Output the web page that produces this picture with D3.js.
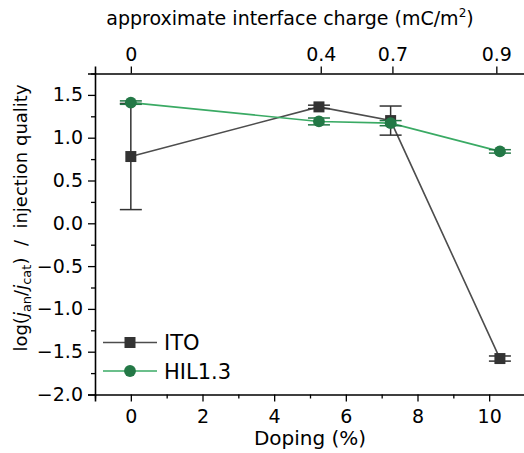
<!DOCTYPE html>
<html>
<head>
<meta charset="utf-8">
<script src="https://cdn.jsdelivr.net/npm/d3@7"></script>
<style>
  body { margin: 0; background: #fff; }
  svg text { font-family: "DejaVu Sans", sans-serif; fill: #000; }
</style>
</head>
<body>
<div id="chart"></div>
<script>
// data
let doping = [0, 5.25, 7.25, 10.3];
let itoValues = [0.78, 1.36, 1.20, -1.58];
let itoErrors = [0.62, 0.02, 0.17, 0.03];
let hilValues = [1.41, 1.19, 1.17, 0.84];
let hilErrors = [0.02, 0.04, 0.03, 0.02];

let chargeLabels = ["0", "0.4", "0.7", "0.9"];
let chargeAtDoping = [0, 5.3, 7.3, 10.2];

let xTicks = [0, 2, 4, 6, 8, 10];
let yTicks = [-2.0, -1.5, -1.0, -0.5, 0.0, 0.5, 1.0, 1.5];

let svgWidth = 524;
let svgHeight = 453;
let margin = { top: 73.5, right: -1, bottom: 58.5, left: 95 };
let width = svgWidth - margin.left - margin.right;
let height = svgHeight - margin.top - margin.bottom;

let svg = d3.select("#chart").append("svg")
  .attr("width", svgWidth)
  .attr("height", svgHeight);

let chartGroup = svg.append("g")
  .attr("transform", `translate(${margin.left}, ${margin.top})`);

let x = d3.scaleLinear().domain([-1, 11]).range([0, width]);
let y = d3.scaleLinear().domain([-2, 1.75]).range([height, 0]);

// minor ticks
chartGroup.append("g")
  .attr("transform", `translate(0, ${height})`)
  .call(d3.axisBottom(x).tickValues(d3.range(-1, 11, 2)).tickSize(4).tickFormat(""))
  .call(g => g.select(".domain").remove());
chartGroup.append("g")
  .call(d3.axisLeft(y).tickValues(d3.range(-1.75, 1.76, 0.5)).tickSize(4).tickFormat(""))
  .call(g => g.select(".domain").remove());

// major axes
let xAxis = chartGroup.append("g")
  .attr("transform", `translate(0, ${height})`)
  .call(d3.axisBottom(x).tickValues(xTicks).tickSize(7).tickPadding(8).tickFormat(d3.format("d")));
let yAxis = chartGroup.append("g")
  .call(d3.axisLeft(y).tickValues(yTicks).tickSize(7).tickPadding(5)
    .tickFormat(d => d3.format(".1f")(d).replace("-", "\u2212")));
let topAxis = chartGroup.append("g")
  .call(d3.axisTop(x).tickValues(chargeAtDoping).tickSize(7).tickPadding(6)
    .tickFormat((d, i) => chargeLabels[i]));

[xAxis, yAxis, topAxis].forEach(a => {
  a.selectAll(".domain").attr("stroke-width", 1.6).attr("stroke", "#000");
  a.selectAll("text").style("font-size", "19px");
});
chartGroup.selectAll("g.tick line").attr("stroke-width", 1.3);
chartGroup.selectAll("g").attr("font-family", null);

// axis titles
svg.append("text")
  .attr("x", 290).attr("y", 25)
  .attr("text-anchor", "middle")
  .style("font-size", "19px")
  .html('approximate interface charge (mC/m<tspan dy="-8" font-size="12">2</tspan><tspan dy="8">)</tspan>');

svg.append("text")
  .attr("x", 310).attr("y", 445)
  .attr("text-anchor", "middle")
  .style("font-size", "20px")
  .text("Doping (%)");

svg.append("text")
  .attr("transform", "translate(27, 218) rotate(-90)")
  .attr("text-anchor", "middle")
  .style("font-size", "18px")
  .html('log(<tspan font-style="italic">j</tspan><tspan dy="4" font-size="13">an</tspan><tspan dy="-4">/</tspan><tspan font-style="italic">j</tspan><tspan dy="4" font-size="13">cat</tspan><tspan dy="-4" xml:space="preserve">)  /  injection quality</tspan>');

// series
let series = [
  { name: "ITO", values: itoValues, errors: itoErrors, line: "#4d4d4d", fill: "#333333", shape: d3.symbolSquare },
  { name: "HIL1.3", values: hilValues, errors: hilErrors, line: "#3aaa64", fill: "#237846", shape: d3.symbolCircle }
];

let lineGen = d3.line().x(d => x(d[0])).y(d => y(d[1]));

series.forEach(s => {
  let pts = doping.map((d, i) => [d, s.values[i], s.errors[i]]);
  let g = chartGroup.append("g");

  g.append("path")
    .datum(pts)
    .attr("d", lineGen)
    .attr("fill", "none")
    .attr("stroke", s.line)
    .attr("stroke-width", 1.6);

  let eb = g.selectAll(".err").data(pts).enter().append("g");
  eb.append("line")
    .attr("x1", d => x(d[0])).attr("x2", d => x(d[0]))
    .attr("y1", d => y(d[1] - d[2])).attr("y2", d => y(d[1] + d[2]))
    .attr("stroke", s.fill).attr("stroke-width", 1.5);
  [-1, 1].forEach(sign => {
    eb.append("line")
      .attr("x1", d => x(d[0]) - 11).attr("x2", d => x(d[0]) + 11)
      .attr("y1", d => y(d[1] + sign * d[2])).attr("y2", d => y(d[1] + sign * d[2]))
      .attr("stroke", s.fill).attr("stroke-width", 1.5);
  });

  g.selectAll(".mark").data(pts).enter().append("path")
    .attr("transform", d => `translate(${x(d[0])}, ${y(d[1])})`)
    .attr("d", d3.symbol().type(s.shape).size(s.shape === d3.symbolSquare ? 121 : 110))
    .attr("fill", s.fill);
});

// legend
let legend = chartGroup.append("g").attr("transform", `translate(8, ${342.5 - margin.top})`);
series.forEach((s, i) => {
  let row = legend.append("g").attr("transform", `translate(0, ${i * 28.5})`);
  row.append("line").attr("x1", 0).attr("x2", 54).attr("stroke", s.line).attr("stroke-width", 1.6);
  row.append("path")
    .attr("transform", "translate(27, 0)")
    .attr("d", d3.symbol().type(s.shape).size(s.shape === d3.symbolSquare ? 121 : 110))
    .attr("fill", s.fill);
  row.append("text").attr("x", 61).attr("y", 7.5).style("font-size", "21px").text(s.name);
});
</script>
</body>
</html>
